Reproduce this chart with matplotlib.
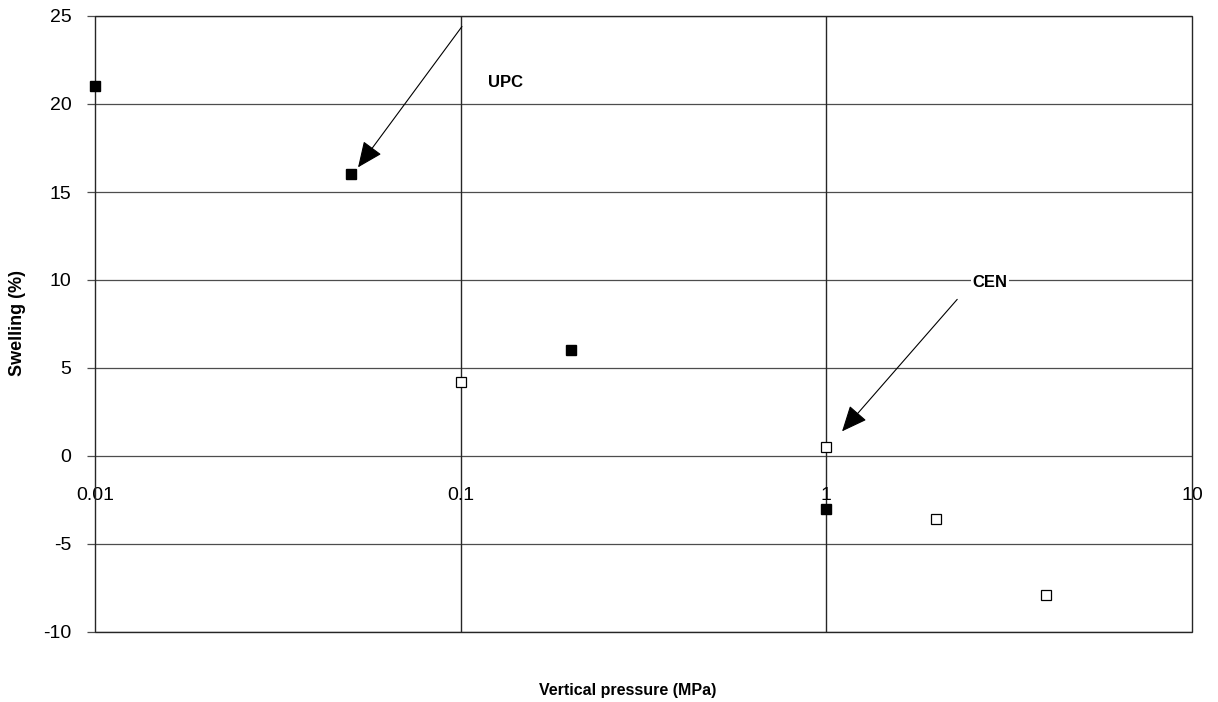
import matplotlib.pyplot as plt
import numpy as np
from matplotlib.patches import Rectangle

plt.rcParams['font.family'] = ['Liberation Sans', 'DejaVu Sans']
plt.rcParams['axes.unicode_minus'] = False

# UPC (filled squares)
upc_pressure = [0.01, 0.05, 0.2, 1.0]
upc_swelling = [21.0, 16.0, 6.0, -3.0]
# CEN (open squares)
cen_pressure = [0.1, 1.0, 2.0, 4.0]
cen_swelling = [4.2, 0.5, -3.6, -7.9]

x_ticks = [0.01, 0.1, 1, 10]
x_tick_labels = ['0.01', '0.1', '1', '10']
y_ticks = [-10, -5, 0, 5, 10, 15, 20, 25]

fig = plt.figure(figsize=(12.18, 7.02), dpi=100)
ax = fig.add_axes([95/1218, 1 - 632/702, (1192 - 95)/1218, (632 - 16)/702])

ax.set_xscale('log')
ax.set_xlim(0.01, 10)
ax.set_ylim(-10, 25)

# horizontal grid
for yv in y_ticks:
    ax.axhline(yv, color='0.3', lw=0.9, zorder=1)
# vertical major lines
for xv in x_ticks[1:-1]:
    ax.axvline(xv, color='0.15', lw=1.0, zorder=1)

ax.plot(upc_pressure, upc_swelling, 's', color='black', ms=6.5, zorder=3, clip_on=False)
ax.plot(cen_pressure, cen_swelling, 's', mfc='white', mec='black', mew=0.9, ms=7,
        zorder=3, clip_on=False)

# axis crosses at y = 0 (Excel style)
for side in ['top', 'right', 'left', 'bottom']:
    ax.spines[side].set_visible(False)
ax.spines['bottom'].set_position(('data', 0))
ax.add_patch(Rectangle((0, 0), 1, 1, transform=ax.transAxes, fill=False,
                       edgecolor='0.15', lw=1.0, zorder=2, clip_on=False))

ax.set_xticks(x_ticks)
ax.set_xticklabels(x_tick_labels)
ax.xaxis.set_minor_locator(plt.NullLocator())
ax.tick_params(axis='x', length=0, pad=22, labelsize=14)
ax.set_yticks(y_ticks)
ax.tick_params(axis='y', length=5.5, width=0.9, pad=11.5, labelsize=14, color='0.3')

fig.text(628/1218, 1 - 690/702, 'Vertical pressure (MPa)', ha='center', va='center',
         fontsize=11.5, fontweight='bold')
fig.text(18/1218, 1 - 323/702, 'Swelling (%)', ha='center', va='center',
         rotation=90, fontsize=13, fontweight='bold')

arrow = dict(arrowstyle='-|>,head_length=1.6,head_width=0.7', color='black', lw=0.8,
             shrinkA=0, shrinkB=0)
ax.annotate('', xy=(0.0524, 16.4), xytext=(0.1008, 24.4), arrowprops=arrow, zorder=4)
ax.text(0.119, 21.2, 'UPC', fontsize=12, fontweight='bold', va='center', ha='left')
ax.annotate('', xy=(1.104, 1.4), xytext=(2.28, 8.9), arrowprops=arrow, zorder=4)
ax.text(2.8, 9.85, 'CEN', fontsize=12, fontweight='bold', va='center', ha='center',
        bbox=dict(facecolor='white', edgecolor='none', pad=1), zorder=4)

plt.savefig('out.png', dpi=100)
